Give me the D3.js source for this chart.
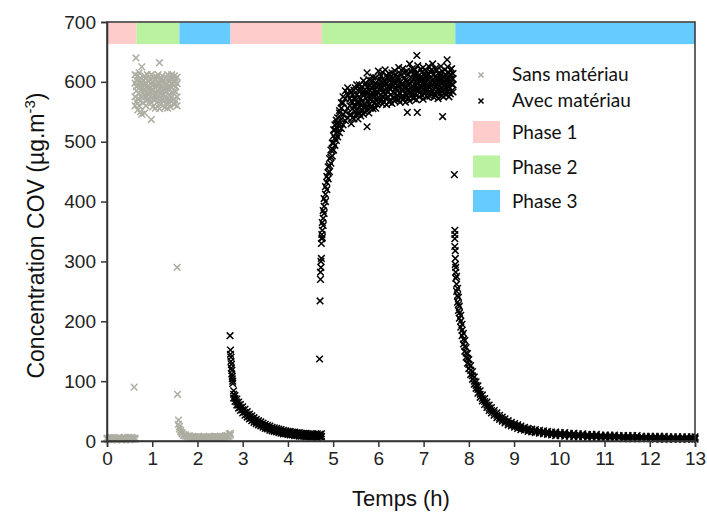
<!DOCTYPE html>
<html>
<head>
<meta charset="utf-8">
<script src="https://cdn.jsdelivr.net/npm/d3@7"></script>
<style>
  body { margin: 0; background: #fff; }
  svg { display: block; }
</style>
</head>
<body>
<svg id="chart"></svg>
<script>
(function() {

  // phases shown as a band along the top
  const phaseBounds = [0, 0.65, 1.6, 2.73, 4.75, 7.7, 13]
  const phaseOrder = [1, 2, 3, 1, 2, 3]
  const phaseNames = ['Phase 1', 'Phase 2', 'Phase 3']

  const xTicks = [0, 1, 2, 3, 4, 5, 6, 7, 8, 9, 10, 11, 12, 13]
  const yTicks = [0, 100, 200, 300, 400, 500, 600, 700]

  // rows: [time (h), concentration values read at that time...]
  const sansPhase1 = [
    [0.00, 3, 5], [0.03, 4, 2], [0.06, 5, 3], [0.09, 3, 6], [0.12, 4, 2], [0.15, 6, 3],
    [0.18, 3, 5], [0.21, 4, 2], [0.24, 5, 3], [0.27, 3, 6], [0.30, 4, 3], [0.33, 2, 5],
    [0.36, 5, 3], [0.39, 4, 6], [0.42, 3, 2], [0.45, 5, 4], [0.48, 3, 6], [0.51, 4, 2],
    [0.54, 6, 3], [0.57, 3, 5], [0.60, 4, 90], [0.62, 5, 3]
  ]

  const sansPhase2 = [
    [0.62, 598, 575, 612, 560], [0.64, 640], [0.65, 585, 603, 567, 592], [0.68, 610, 572, 594, 553],
    [0.71, 580, 600, 560, 615], [0.74, 592, 568, 606, 550], [0.77, 575, 598, 588, 546, 625],
    [0.80, 603, 582, 565, 595], [0.83, 588, 610, 548, 578], [0.86, 596, 575, 606, 560],
    [0.89, 580, 612, 570, 592], [0.92, 600, 578, 588, 572], [0.95, 584, 605, 590, 570],
    [0.98, 612, 583, 565, 597, 537], [1.01, 587, 600, 558, 575], [1.04, 595, 570, 608, 582],
    [1.07, 575, 603, 590, 556], [1.10, 608, 580, 565, 595], [1.13, 585, 612, 572, 598],
    [1.16, 598, 570, 588, 555, 632], [1.19, 580, 605, 562, 592], [1.22, 610, 585, 570, 600],
    [1.25, 588, 568, 603, 578], [1.28, 600, 575, 557, 590], [1.31, 585, 608, 565, 595],
    [1.34, 612, 590, 572, 556], [1.37, 578, 600, 586, 565], [1.40, 605, 570, 592, 558],
    [1.43, 590, 612, 575, 598], [1.46, 570, 596, 606, 582], [1.49, 600, 562, 585, 610],
    [1.52, 583, 605, 568, 592], [1.55, 597, 575, 560, 608]
  ]

  const sansPhase3 = [
    [1.55, 290], [1.56, 78], [1.58, 35, 28], [1.60, 24, 20], [1.63, 18, 15], [1.66, 14, 12],
    [1.70, 11, 9], [1.74, 10, 8], [1.78, 8, 7], [1.82, 9, 6], [1.86, 7, 6], [1.90, 8, 5],
    [1.94, 6, 7], [1.98, 7, 5], [2.02, 6, 8], [2.06, 5, 7], [2.10, 7, 5], [2.14, 6, 8],
    [2.18, 5, 6], [2.22, 7, 5], [2.26, 6, 8], [2.30, 5, 7], [2.34, 7, 5], [2.38, 6, 8],
    [2.42, 8, 5], [2.46, 6, 7], [2.50, 5, 8], [2.54, 7, 6], [2.58, 8, 5], [2.62, 6, 9],
    [2.66, 9, 7], [2.70, 12, 8], [2.73, 10, 13]
  ]

  const avecPhase1 = [
    [2.72, 176], [2.73, 152, 145], [2.74, 140, 133], [2.75, 128, 122], [2.76, 118, 112],
    [2.77, 108, 104], [2.78, 100, 96], [2.80, 84, 78, 72], [2.83, 76, 71, 66], [2.87, 70, 65, 60],
    [2.91, 65, 60, 55], [2.95, 61, 56, 51], [3.00, 57, 52, 47], [3.05, 53, 48, 43],
    [3.10, 49, 44, 40], [3.15, 45, 41, 37], [3.20, 42, 38, 34], [3.25, 39, 35, 31],
    [3.30, 36, 32, 29], [3.35, 34, 30, 27], [3.40, 32, 28, 25], [3.45, 30, 26, 23],
    [3.50, 28, 24, 21], [3.55, 26, 22, 20], [3.60, 25, 21, 18], [3.65, 23, 20, 17],
    [3.70, 22, 18, 16], [3.75, 21, 17, 15], [3.80, 20, 16, 14], [3.85, 19, 15, 13],
    [3.90, 18, 14, 12], [3.95, 17, 13, 12], [4.00, 16, 12, 11], [4.05, 16, 12, 10],
    [4.10, 15, 11, 10], [4.15, 15, 11, 9], [4.20, 14, 10, 9], [4.25, 14, 10, 8],
    [4.30, 13, 10, 8], [4.35, 13, 9, 8], [4.40, 13, 9, 7], [4.45, 12, 9, 7], [4.50, 12, 8, 7],
    [4.55, 12, 9, 7], [4.60, 11, 8, 7], [4.65, 12, 8, 6], [4.70, 11, 9, 7], [4.74, 12, 8, 7]
  ]

  const avecPhase2 = [
    [4.70, 137], [4.71, 234], [4.72, 270, 282], [4.73, 290, 300], [4.74, 305, 330], [4.75, 338, 345],
    [4.76, 352, 365, 340], [4.78, 372, 385, 360], [4.80, 392, 405, 380], [4.83, 412, 425, 400],
    [4.86, 432, 442, 420], [4.89, 448, 458, 438], [4.92, 460, 472, 450], [4.95, 474, 486, 464],
    [4.98, 488, 498, 476], [5.01, 498, 510, 486, 520], [5.04, 506, 520, 494, 528],
    [5.07, 514, 530, 502, 536], [5.10, 522, 540, 508, 532], [5.14, 530, 548, 515, 552],
    [5.18, 538, 556, 522, 565], [5.22, 545, 565, 528, 575], [5.27, 550, 572, 535, 585],
    [5.32, 556, 578, 540, 590], [5.37, 560, 585, 545, 572],
    [5.40, 568, 545, 582, 530], [5.43, 555, 578, 540, 566], [5.46, 586, 560, 538, 572],
    [5.49, 550, 572, 590, 558], [5.52, 578, 545, 566, 595], [5.55, 564, 586, 550, 538],
    [5.58, 595, 558, 575, 547], [5.61, 572, 543, 586, 562], [5.64, 552, 592, 568, 580],
    [5.67, 585, 558, 602, 546], [5.70, 563, 580, 550, 595], [5.73, 597, 572, 558, 585],
    [5.75, 615, 525], [5.76, 580, 554, 592, 568], [5.79, 562, 604, 577, 548],
    [5.82, 594, 570, 556, 585], [5.85, 577, 590, 602, 560], [5.88, 555, 580, 568, 608],
    [5.91, 593, 564, 586, 575], [5.94, 607, 580, 556, 598], [5.97, 572, 596, 584, 562],
    [6.00, 593, 565, 618, 581], [6.03, 605, 587, 572, 596], [6.06, 569, 610, 590, 578],
    [6.09, 598, 575, 563, 616], [6.12, 584, 602, 594, 567], [6.15, 620, 579, 586, 600],
    [6.18, 573, 596, 611, 562], [6.21, 606, 584, 575, 592], [6.24, 590, 566, 603, 614],
    [6.27, 578, 608, 587, 570], [6.30, 615, 592, 564, 600], [6.33, 583, 574, 606, 595],
    [6.36, 600, 619, 581, 568], [6.39, 571, 590, 612, 597], [6.42, 608, 578, 594, 585],
    [6.45, 593, 624, 570, 603], [6.48, 580, 599, 614, 566], [6.51, 612, 586, 575, 595],
    [6.54, 596, 570, 622, 588], [6.57, 575, 607, 590, 615], [6.60, 603, 593, 566, 580],
    [6.63, 618, 578, 600, 590], [6.64, 549], [6.66, 586, 612, 573, 601], [6.69, 598, 630, 582, 568],
    [6.72, 607, 589, 617, 576], [6.75, 580, 600, 593, 622], [6.78, 614, 572, 604, 588],
    [6.81, 595, 620, 579, 609], [6.84, 570, 601, 613, 590], [6.85, 644], [6.86, 549],
    [6.87, 606, 585, 627, 597], [6.90, 589, 611, 575, 602], [6.93, 621, 594, 583, 608],
    [6.96, 578, 603, 616, 590], [6.99, 600, 586, 624, 571], [7.02, 612, 597, 580, 605],
    [7.05, 584, 618, 593, 600], [7.08, 605, 575, 610, 588], [7.11, 593, 626, 582, 612],
    [7.14, 617, 590, 600, 576], [7.17, 581, 608, 594, 620], [7.20, 602, 585, 630, 596],
    [7.23, 574, 613, 598, 588], [7.26, 609, 592, 578, 622], [7.29, 596, 620, 605, 583],
    [7.32, 586, 600, 614, 572], [7.35, 612, 579, 593, 605], [7.38, 598, 626, 585, 610],
    [7.41, 577, 604, 618, 591], [7.42, 542], [7.44, 608, 588, 600, 575], [7.47, 620, 596, 582, 612],
    [7.50, 590, 610, 603, 578], [7.52, 637], [7.53, 604, 583, 625, 598], [7.56, 575, 615, 592, 606],
    [7.59, 612, 598, 580, 620], [7.62, 596, 622, 606, 585], [7.65, 583, 605, 614, 595]
  ]

  const avecPhase3 = [
    [7.68, 445], [7.69, 352, 345, 338, 325], [7.70, 318, 305, 295], [7.71, 290, 282, 272],
    [7.73, 275, 262, 250], [7.75, 255, 243, 232], [7.77, 240, 228, 218], [7.79, 225, 214, 205],
    [7.82, 210, 200, 190], [7.85, 195, 185, 176], [7.88, 180, 170, 162], [7.91, 168, 158, 150],
    [7.94, 156, 147, 140], [7.97, 146, 138, 130], [8.00, 136, 128, 121], [8.04, 126, 118, 111],
    [8.08, 116, 109, 103], [8.12, 107, 100, 95], [8.16, 99, 93, 88], [8.20, 92, 86, 80],
    [8.25, 84, 78, 73], [8.30, 77, 71, 67], [8.35, 71, 66, 61], [8.40, 65, 60, 56],
    [8.45, 60, 55, 51], [8.50, 56, 51, 47], [8.56, 51, 47, 43], [8.62, 47, 43, 39],
    [8.68, 43, 39, 36], [8.74, 40, 36, 33], [8.80, 37, 33, 30], [8.87, 34, 30, 27],
    [8.94, 31, 28, 25], [9.01, 29, 26, 23], [9.08, 27, 24, 21], [9.15, 25, 22, 19],
    [9.23, 23, 20, 18], [9.31, 21, 19, 16], [9.39, 20, 17, 15], [9.47, 19, 16, 14],
    [9.56, 18, 15, 13], [9.65, 17, 14, 12], [9.74, 16, 13, 11], [9.83, 15, 12, 10],
    [9.92, 15, 12, 9], [10.02, 14, 11, 9], [10.12, 14, 11, 8], [10.22, 13, 10, 8],
    [10.32, 13, 10, 7], [10.42, 12, 9, 7], [10.52, 12, 9, 7], [10.62, 11, 9, 6],
    [10.72, 11, 8, 6], [10.82, 11, 8, 6], [10.92, 10, 8, 5], [11.02, 10, 7, 5],
    [11.12, 10, 7, 5], [11.22, 10, 7, 5], [11.32, 9, 7, 5], [11.42, 9, 7, 4],
    [11.52, 9, 6, 4], [11.62, 9, 6, 4], [11.72, 9, 6, 4], [11.82, 8, 6, 4],
    [11.92, 8, 6, 4], [12.02, 8, 6, 4], [12.12, 8, 6, 3], [12.22, 8, 5, 3],
    [12.32, 8, 5, 3], [12.42, 7, 5, 3], [12.52, 7, 5, 3], [12.62, 7, 5, 3],
    [12.72, 7, 5, 3], [12.82, 7, 5, 3], [12.92, 7, 5, 3], [13.00, 7, 5, 3]
  ]

  const series = [
    {name: 'Sans matériau', color: '#adada2', rows: [].concat(sansPhase1, sansPhase2, sansPhase3)},
    {name: 'Avec matériau', color: '#000000', rows: [].concat(avecPhase1, avecPhase2, avecPhase3)}
  ]

  const phaseColorScale = d3.scaleOrdinal()
      .domain([1, 2, 3])
      .range(['#ffcccc', '#bbf29f', '#66ccff'])

  const axisFont = '"Liberation Sans", Arial, sans-serif'
  const legendFont = 'Lato, "Open Sans", sans-serif'

  const svgWidth = 707
  const svgHeight = 520
  const margin = {top: 22, right: 12, bottom: 79, left: 107}
  const width = svgWidth - margin.left - margin.right
  const height = svgHeight - margin.top - margin.bottom

  const svg = d3.select('#chart')
      .attr('width', svgWidth)
      .attr('height', svgHeight)

  const g = svg.append('g')
      .attr('transform', `translate(${margin.left},${margin.top})`)

  const x = d3.scaleLinear().domain([0, 13]).range([0, width])
  const y = d3.scaleLinear().domain([0, 700]).range([height, 0])

  // phase band
  g.selectAll('.phase')
    .data(phaseOrder)
    .enter()
    .append('rect')
    .classed('phase', true)
    .attr('x', (d, i) => x(phaseBounds[i]))
    .attr('width', (d, i) => x(phaseBounds[i + 1]) - x(phaseBounds[i]))
    .attr('y', y(699))
    .attr('height', y(663) - y(699))
    .attr('fill', d => phaseColorScale(d))

  const crossPath = s => `M${-s},${-s}L${s},${s}M${-s},${s}L${s},${-s}`

  for (let s of series) {
    const points = s.rows.flatMap(r => r.slice(1).map(v => ({t: r[0], v: v})))
    g.append('g')
      .selectAll('path')
      .data(points)
      .enter()
      .append('path')
      .attr('d', crossPath(3.3))
      .attr('transform', d => `translate(${x(d.t)},${y(d.v)})`)
      .attr('stroke', s.color)
      .attr('stroke-width', 1.5)
      .attr('fill', 'none')
  }

  // frame + axes
  g.append('rect')
    .attr('width', width)
    .attr('height', height)
    .attr('fill', 'none')
    .attr('stroke', '#333')
    .attr('stroke-width', 1.5)

  const xAxis = g.append('g')
      .attr('transform', `translate(0,${height})`)
      .call(d3.axisBottom(x).tickValues(xTicks).tickSize(6).tickPadding(5).tickFormat(d3.format('d')))

  const yAxis = g.append('g')
      .call(d3.axisLeft(y).tickValues(yTicks).tickSize(6).tickPadding(5).tickFormat(d3.format('d')))

  for (let a of [xAxis, yAxis]) {
    a.select('.domain').attr('stroke', '#333').attr('stroke-width', 1.5)
    a.selectAll('.tick line').attr('stroke', '#333').attr('stroke-width', 1.5)
    a.selectAll('.tick text')
      .style('font-family', axisFont)
      .style('font-size', '19px')
      .attr('fill', '#222')
  }

  svg.append('text')
    .style('font-family', axisFont)
    .style('font-size', '22px')
    .attr('fill', '#111')
    .attr('x', margin.left + width / 2)
    .attr('y', 506)
    .attr('text-anchor', 'middle')
    .text('Temps (h)')

  const yTitle = svg.append('text')
    .style('font-family', axisFont)
    .style('font-size', '23px')
    .attr('fill', '#111')
    .attr('transform', `translate(44,${margin.top + height / 2 + 4}) rotate(-90)`)
    .attr('text-anchor', 'middle')
  yTitle.append('tspan').text('Concentration COV (µg.m')
  yTitle.append('tspan').attr('dy', -9).style('font-size', '15px').text('-3')
  yTitle.append('tspan').attr('dy', 9).text(')')

  // legend
  const legend = svg.append('g')

  legend.selectAll('.lg-marker')
    .data(series)
    .enter()
    .append('path')
    .attr('d', crossPath(2.5))
    .attr('transform', (d, i) => `translate(481,${75 + i * 26})`)
    .attr('stroke', d => d.color)
    .attr('stroke-width', 1.5)
    .attr('fill', 'none')

  legend.selectAll('.lg-series')
    .data(series)
    .enter()
    .append('text')
    .style('font-family', legendFont)
    .style('font-size', '19px')
    .attr('fill', '#111')
    .attr('x', 512)
    .attr('y', (d, i) => 81 + i * 26)
    .text(d => d.name)

  legend.selectAll('.lg-swatch')
    .data(phaseNames)
    .enter()
    .append('rect')
    .attr('x', 473)
    .attr('y', (d, i) => 121 + i * 34.5)
    .attr('width', 27)
    .attr('height', 22)
    .attr('fill', (d, i) => phaseColorScale(i + 1))

  legend.selectAll('.lg-phase')
    .data(phaseNames)
    .enter()
    .append('text')
    .style('font-family', legendFont)
    .style('font-size', '19px')
    .attr('fill', '#111')
    .attr('x', 512)
    .attr('y', (d, i) => 139 + i * 34.5)
    .text(d => d)

})()
</script>
</body>
</html>
